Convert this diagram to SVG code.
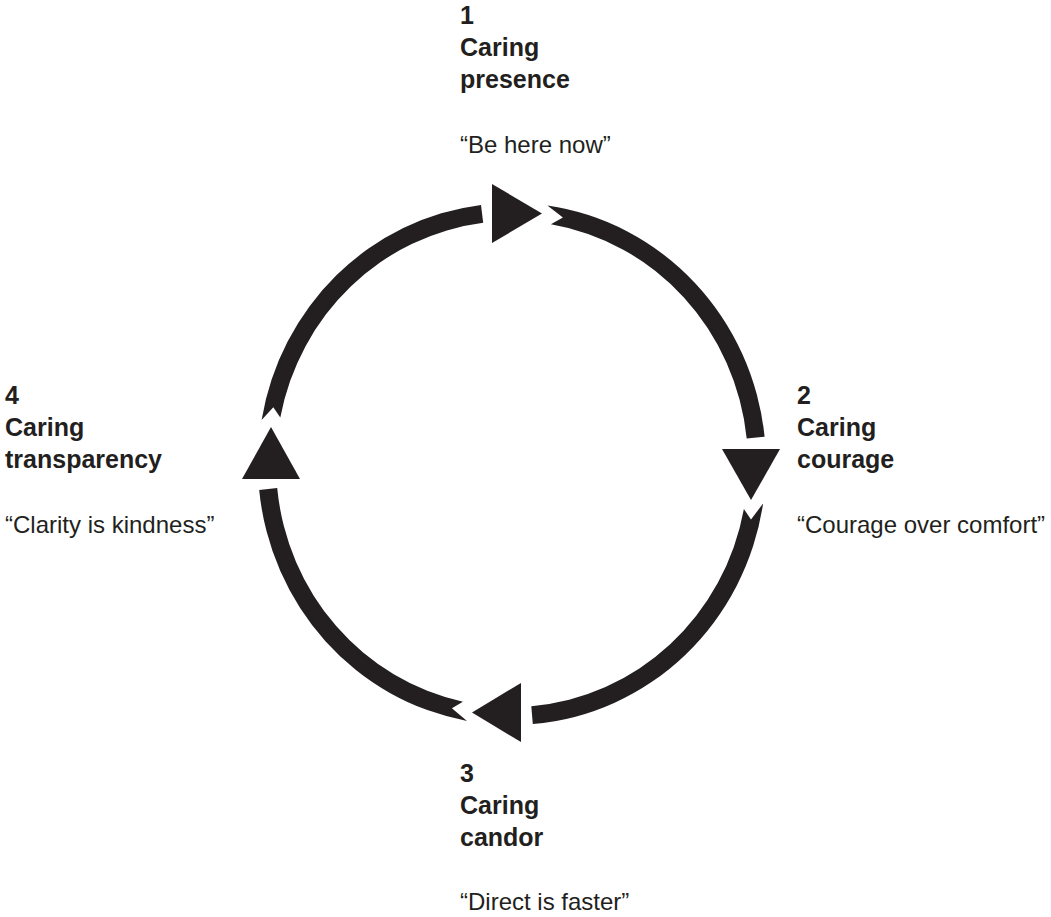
<svg xmlns="http://www.w3.org/2000/svg" width="1051" height="917" viewBox="0 0 1051 917">
  <style>
    .arc { fill: #231f20; }
    .head { fill: #231f20; }
    .title { font-family: "Liberation Sans", Arial, sans-serif; font-weight: bold; font-size: 25px; fill: #231f20; }
    .quote { font-family: "Liberation Sans", Arial, sans-serif; font-size: 24px; fill: #231f20; }
  </style>
  <rect width="1051" height="917" fill="#ffffff"/>

  <!-- cycle: four arc bands with swallowtail starts and flat ends, plus triangular heads -->
  <g id="connectors">
    <path class="arc" d="M547.4,205.5 A254,261 0 0 1 764.6,436.7 L746.7,438.6 A236,243 0 0 0 550.9,224.3 L562.9,217.5 Z"/>
    <path class="arc" d="M763.1,503.5 A254,261 0 0 1 532.8,724.1 L531.3,706.2 A236,243 0 0 0 743.9,509.1 L751.0,519.4 Z"/>
    <path class="arc" d="M467.0,720.9 A254,261 0 0 1 259.2,489.9 L277.2,488.1 A236,243 0 0 0 462.9,701.7 L451.9,708.3 Z"/>
    <path class="arc" d="M261.6,420.0 A254,261 0 0 1 481.0,204.9 L483.2,222.8 A236,243 0 0 0 280.3,417.6 L273.3,407.3 Z"/>
    <polygon class="head" points="492,184 492,243 542,213.5"/>
    <polygon class="head" points="722,449 780,449 751,500"/>
    <polygon class="head" points="521,683 521,742 472,712.5"/>
    <polygon class="head" points="242,479 300,479 271,427"/>
  </g>

  <g id="node1">
    <text class="title" x="460" y="24">1</text>
    <text class="title" x="460" y="56">Caring</text>
    <text class="title" x="460" y="88">presence</text>
    <text class="quote" x="460" y="153">“Be here now”</text>
  </g>

  <g id="node2">
    <text class="title" x="797" y="404">2</text>
    <text class="title" x="797" y="436">Caring</text>
    <text class="title" x="797" y="468">courage</text>
    <text class="quote" x="797" y="533">“Courage over comfort”</text>
  </g>

  <g id="node3">
    <text class="title" x="460" y="782">3</text>
    <text class="title" x="460" y="814">Caring</text>
    <text class="title" x="460" y="846">candor</text>
    <text class="quote" x="460" y="910">“Direct is faster”</text>
  </g>

  <g id="node4">
    <text class="title" x="5" y="404">4</text>
    <text class="title" x="5" y="436">Caring</text>
    <text class="title" x="5" y="468">transparency</text>
    <text class="quote" x="5" y="533">“Clarity is kindness”</text>
  </g>
</svg>
